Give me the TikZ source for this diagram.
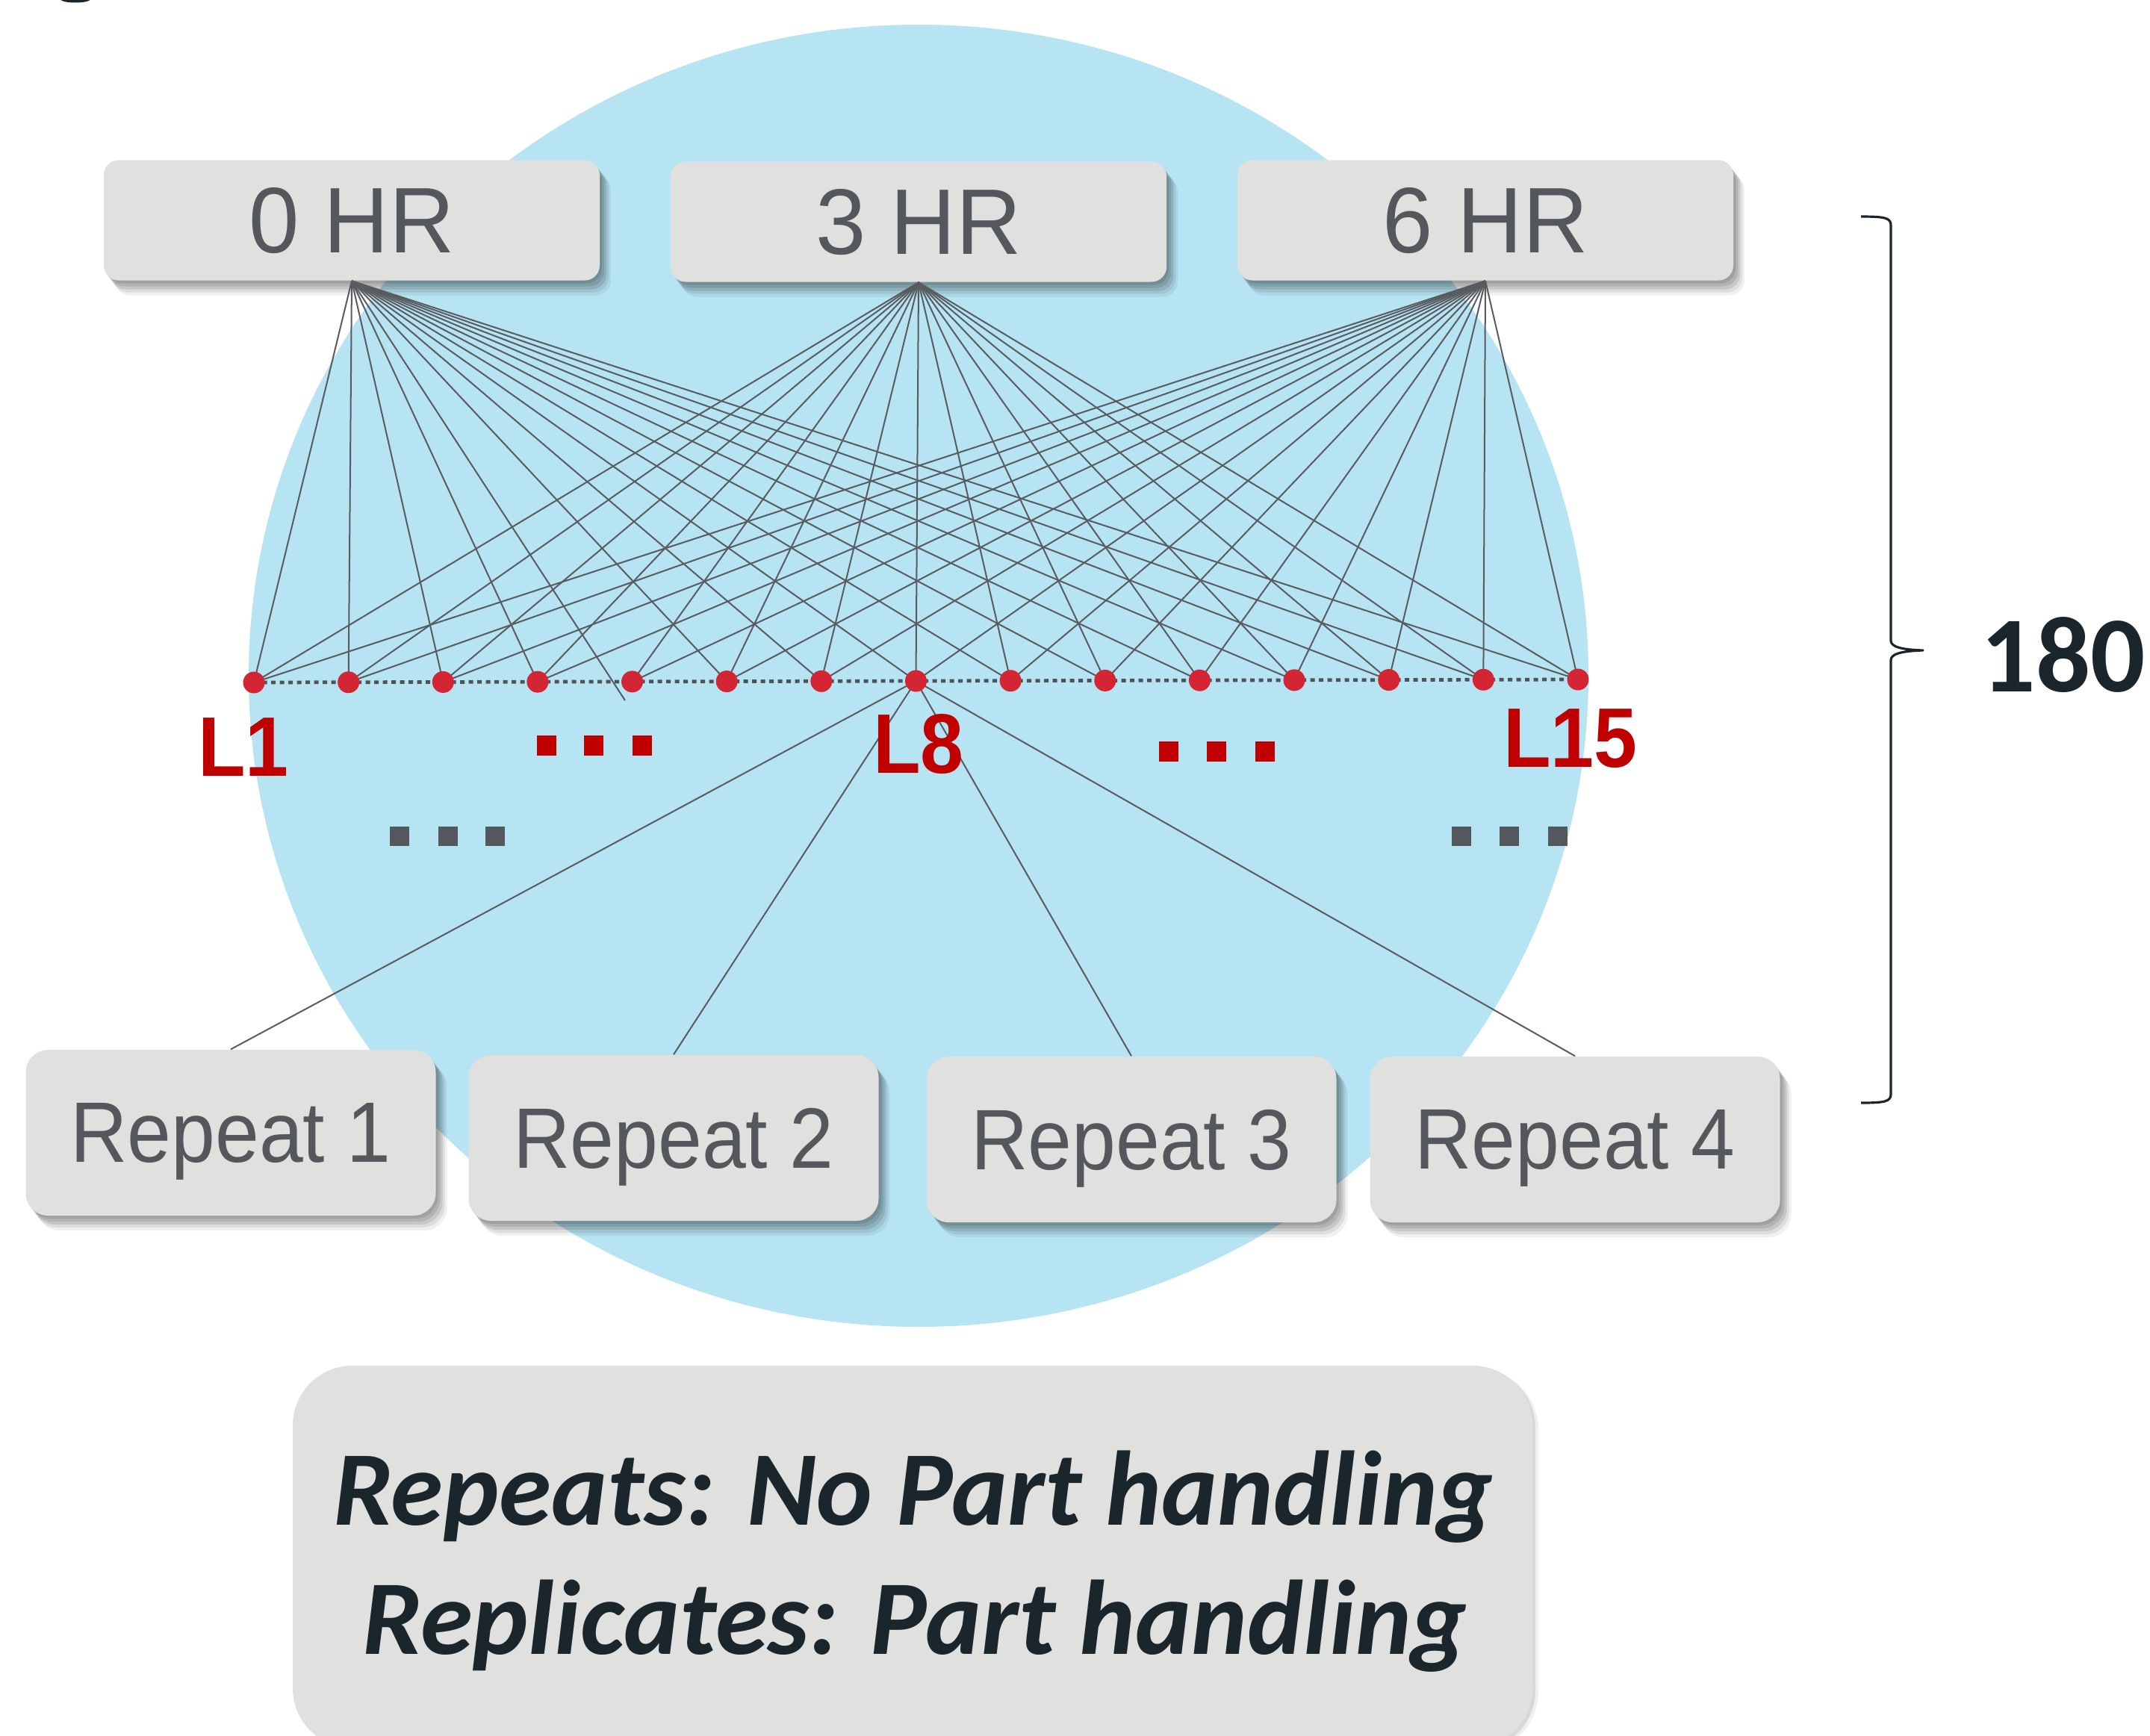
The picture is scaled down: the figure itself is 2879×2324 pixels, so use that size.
\documentclass[tikz,border=0pt]{standalone}
\usepackage{fontspec}
\usepackage{graphicx}
\setmainfont{Liberation Sans}
\newfontfamily\calfont{Carlito}
\usetikzlibrary{shadows}

\definecolor{discblue}{RGB}{183,228,242}
\definecolor{boxgray}{RGB}{224,224,223}
\definecolor{labelgray}{RGB}{84,88,93}
\definecolor{wiregray}{RGB}{88,92,96}
\definecolor{dotred}{RGB}{212,37,53}
\definecolor{labelred}{RGB}{192,0,0}
\definecolor{inkdark}{RGB}{27,37,44}

\newcommand{\squeeze}[1]{\scalebox{0.92}[1]{#1}}
\newcommand{\slightsqueeze}[1]{\scalebox{0.97}[1]{#1}}

\tikzset{
  softshadow/.style={
    drop shadow={shadow xshift=0.3mm, shadow yshift=-0.4mm, opacity=0.10, fill=black},
    drop shadow={shadow xshift=0.6mm, shadow yshift=-0.8mm, opacity=0.10, fill=black},
    drop shadow={shadow xshift=0.9mm, shadow yshift=-1.2mm, opacity=0.10, fill=black},
    drop shadow={shadow xshift=1.2mm, shadow yshift=-1.6mm, opacity=0.08, fill=black},
    drop shadow={shadow xshift=1.5mm, shadow yshift=-2.0mm, opacity=0.06, fill=black}},
  hrbox/.style={softshadow, fill=boxgray, rounded corners=2mm,
    minimum width=66.4mm, minimum height=16.1mm, inner sep=0pt, text depth=0pt,
    text=labelgray, font=\fontsize{35.5}{40}\selectfont},
  repbox/.style={softshadow, fill=boxgray, rounded corners=3mm,
    minimum width=54.9mm, minimum height=22.2mm, inner sep=0pt, text depth=0pt,
    text=labelgray, font=\fontsize{32.7}{38}\selectfont},
  notebox/.style={fill=boxgray, rounded corners=8mm, minimum width=166mm,
    minimum height=51.2mm, inner sep=0pt,
    drop shadow={shadow xshift=0.4mm, shadow yshift=-0.3mm, opacity=0.10, fill=black},
    drop shadow={shadow xshift=0.8mm, shadow yshift=-0.5mm, opacity=0.06, fill=black}},
  notetext/.style={anchor=base, inner sep=0pt, text=inkdark,
    font=\calfont\bfseries\itshape\fontsize{40.4}{46}\selectfont},
  wire/.style={draw=wiregray, line width=0.57pt},
  levelline/.style={draw=wiregray!90!black, line width=1.35pt, dash pattern=on 0.6mm off 0.55mm},
  leveldot/.style={circle, fill=dotred, minimum size=2.9mm, inner sep=0pt},
  levellabel/.style={anchor=base, inner sep=0pt, text=labelred,
    font=\bfseries\fontsize{32.2}{36}\selectfont},
  redbar/.style={fill=labelred},
  graybar/.style={fill=labelgray},
  bracepath/.style={draw=inkdark, line width=0.9pt, line join=round}
}

\begin{document}
\begin{tikzpicture}[x=0.1mm, y=-0.1mm]
\useasboundingbox (0,0) rectangle (2879,2324);

% background disc
\fill[discblue] (1230,905) ellipse [x radius=89.7mm, y radius=87.2mm];

% tail of a glyph cut by the top edge
\fill[inkdark] (101,-1) ellipse [x radius=2mm, y radius=0.45mm];

% time points
\node[hrbox] (hr0) at (471,295) {\slightsqueeze{0 HR}};
\node[hrbox] (hr3) at (1230,297) {\slightsqueeze{3 HR}};
\node[hrbox] (hr6) at (1989,295) {\slightsqueeze{6 HR}};

% level positions along the row
\foreach \i in {1,...,15}
  \coordinate (p\i) at ({340+126.64*(\i-1)}, {914-0.286*(\i-1)});
\coordinate (stray) at (837,938);

% repeats
\node[repbox] (rep1) at (309,1517) {\squeeze{Repeat 1}};
\node[repbox] (rep2) at (902,1524) {\squeeze{Repeat 2}};
\node[repbox] (rep3) at (1515,1526) {\squeeze{Repeat 3}};
\node[repbox] (rep4) at (2109,1526) {\squeeze{Repeat 4}};

% every time point wired to every level
\foreach \i in {1,2,3,4,6,7,8,9,10,11,12,13,14,15}
  \draw[wire] (hr0.south) -- (p\i);
\draw[wire] (hr0.south) -- (stray);
\foreach \i in {1,...,15}
  \draw[wire] (hr3.south) -- (p\i);
\foreach \i in {1,...,15}
  \draw[wire] (hr6.south) -- (p\i);

% level 8 to the repeats
\foreach \r in {1,2,3,4}
  \draw[wire] (p8) -- (rep\r.north);

% dotted row and the level dots
\draw[levelline] (p1) -- (p15);
\foreach \i in {1,...,15}
  \node[leveldot] (d\i) at (p\i) {};

% level labels
\node[levellabel] (lab1) at (326,1039) {\squeeze{L1}};
\node[levellabel] (lab8) at (1230,1035) {\squeeze{L8}};
\node[levellabel] (lab15) at (2103,1027) {\squeeze{L15}};

% ellipsis marks
\foreach \x in {719,782,847}
  \fill[redbar] (\x,985) rectangle ++(26,27);
\foreach \x in {1552,1616,1681}
  \fill[redbar] (\x,993) rectangle ++(26,27);
\foreach \x in {522,587,650}
  \fill[graybar] (\x,1107) rectangle ++(26,26);
\foreach \x in {1944,2008,2073}
  \fill[graybar] (\x,1107) rectangle ++(26,26);

% brace spanning the whole set
\coordinate (bt) at (2492,290);
\coordinate (bm) at (2575,871);
\coordinate (bb) at (2492,1477);
\draw[bracepath] (bt) .. controls (2525,290) and (2532,292) .. (2532,302)
  -- (2532,858) .. controls (2532,866) and (2545,870) .. (bm)
  .. controls (2545,872) and (2532,876) .. (2532,884)
  -- (2532,1465) .. controls (2532,1475) and (2525,1477) .. (bb);
\node[anchor=base west, inner sep=0pt, text=inkdark,
  font=\calfont\bfseries\fontsize{41.2}{46}\selectfont] (total) at (2652,926) {180};

% note
\node[notebox] (note) at (1222,2085) {};
\node[notetext] (note1) at (1223,2042) {Repeats: No Part handling};
\node[notetext] (note2) at (1225,2215) {Replicates: Part handling};
\end{tikzpicture}
\end{document}
